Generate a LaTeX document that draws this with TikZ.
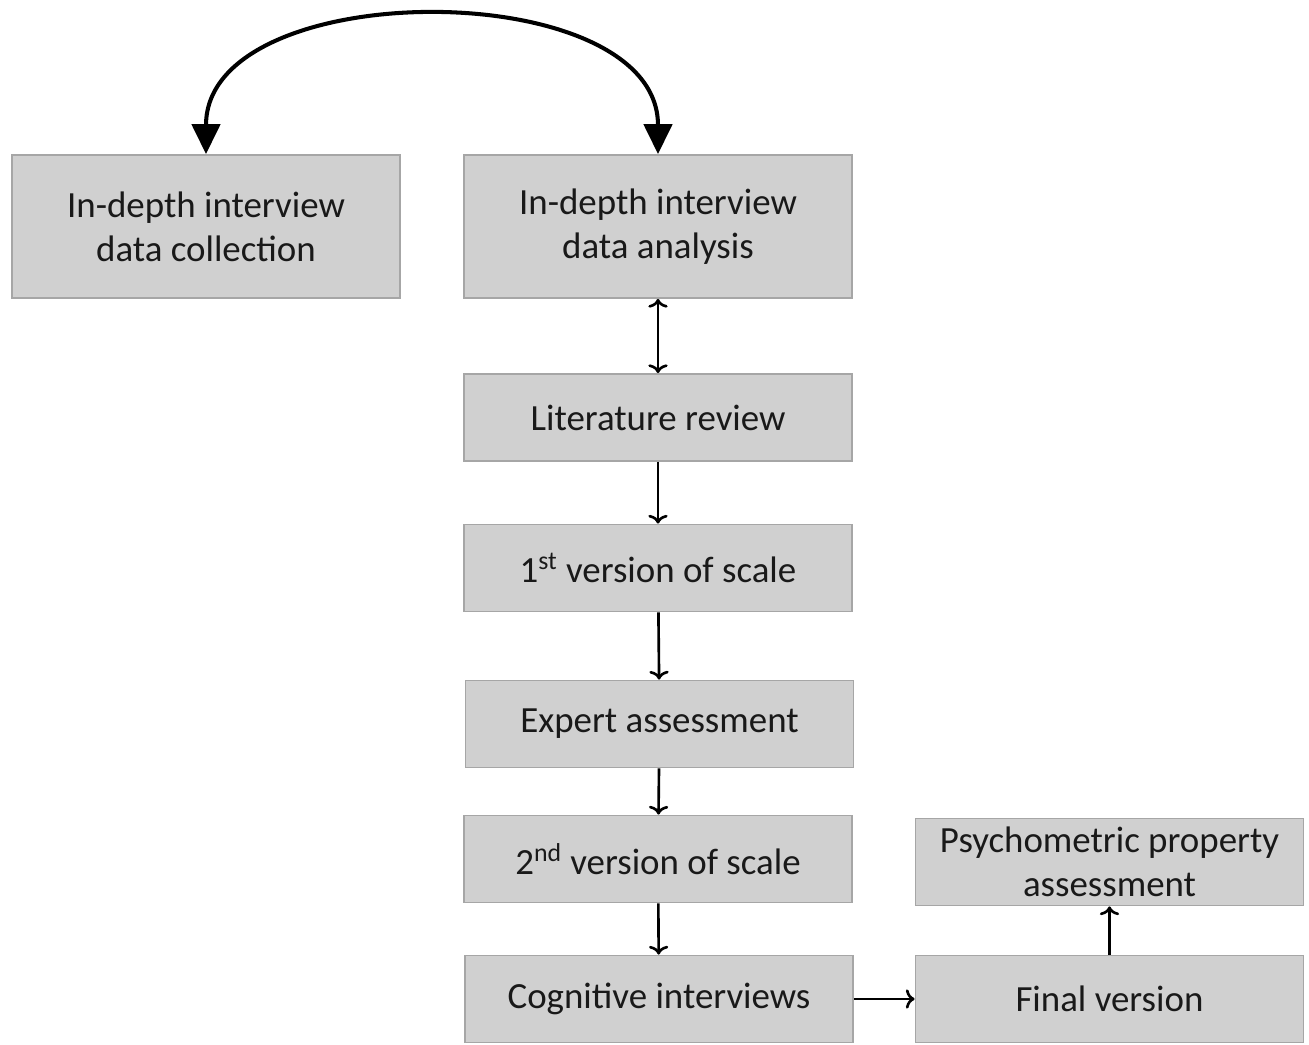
\documentclass[tikz,border=0pt]{standalone}
\usepackage{fontspec}
\setmainfont{Carlito}
\usetikzlibrary{arrows.meta}
\definecolor{boxfill}{HTML}{D0D0D0}
\definecolor{boxline}{HTML}{A6A6A6}

\begin{document}
\begin{tikzpicture}
        [auto=center,
         stage/.style={draw=boxline,fill=boxfill,line width=1pt,minimum width=7.76cm,
                       minimum height=1.74cm,align=center,font=\fontsize{21}{25}\selectfont,text=black!90},
         tall/.style={stage,minimum height=2.86cm},
         flow/.style={line width=1.5pt,>={To[length=5pt,width=11pt]}}]

        \useasboundingbox (0,0) rectangle (26.18,20.9);

        \node[tall]  (coll) at (4.12,16.37)  {In-depth interview\\data collection};
        \node[tall]  (anal) at (13.16,16.37) {In-depth interview\\data analysis};
        \node[stage] (lit)  at (13.16,12.55) {Literature review};
        \node[stage] (ver1) at (13.16,9.54)  {1\textsuperscript{st} version of scale};
        \node[stage] (exp)  at (13.19,6.42)  {Expert assessment};
        \node[stage] (ver2) at (13.16,3.72)  {2\textsuperscript{nd} version of scale};
        \node[stage] (cog)  at (13.18,0.92)  {Cognitive interviews};
        \node[stage] (psy)  at (22.19,3.66)  {Psychometric property\\assessment};
        \node[stage] (fin)  at (22.19,0.92)  {Final version};

        \draw[line width=2.3pt,{Triangle[length=17pt,width=16pt]}-{Triangle[length=17pt,width=16pt]}]
            (coll.north) .. controls +(0,3.6) and +(0,3.6) .. (anal.north);

        \draw[flow,<->] (anal) edge (lit);
        \draw[flow,->] (lit) edge (ver1);
        \draw[flow,->] (ver1) edge (exp);
        \draw[flow,->] (exp) edge (ver2);
        \draw[flow,->] (ver2) edge (cog);
        \draw[flow,->] (cog) edge (fin);
        \draw[flow,->] (fin) edge (psy);
    \end{tikzpicture}
\end{document}
